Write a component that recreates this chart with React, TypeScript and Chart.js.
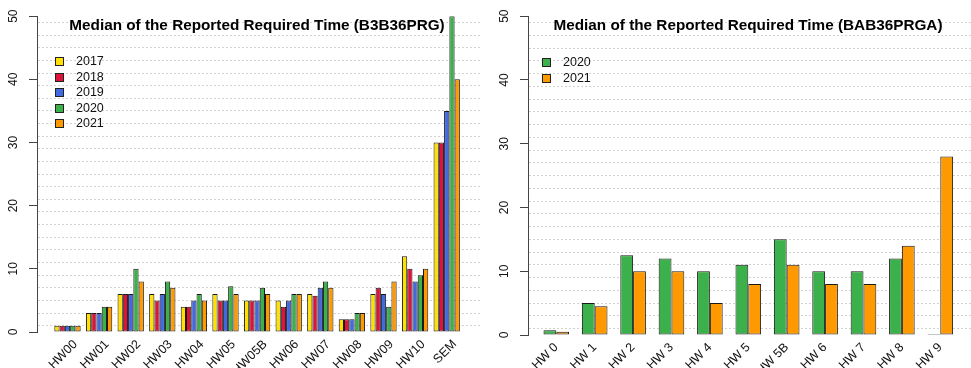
import React, { useEffect, useRef } from 'react';
import { Chart, registerables } from 'chart.js';

Chart.register(...registerables);

// ---------- data ----------
const leftCategories = ['HW00', 'HW01', 'HW02', 'HW03', 'HW04', 'HW05', 'HW05B', 'HW06', 'HW07', 'HW08', 'HW09', 'HW10', 'SEM'];
const leftYears = ['2017', '2018', '2019', '2020', '2021'];
const left2017 = [1, 3, 6, 6, 4, 6, 5, 5, 6, 2, 6, 12, 30];
const left2018 = [1, 3, 6, 5, 4, 5, 5, 4, 5.75, 2, 7, 10, 30];
const left2019 = [1, 3, 6, 6, 5, 5, 5, 5, 7, 2, 6, 8, 35];
const left2020 = [1, 4, 10, 8, 6, 7.25, 7, 6, 8, 3, 4, 9, 50];
const left2021 = [1, 4, 8, 7, 5, 6, 6, 6, 7, 3, 8, 10, 40];

const rightCategories = ['HW 0', 'HW 1', 'HW 2', 'HW 3', 'HW 4', 'HW 5', 'HW 5B', 'HW 6', 'HW 7', 'HW 8', 'HW 9'];
const rightYears = ['2020', '2021'];
const right2020 = [0.75, 5, 12.5, 12, 10, 11, 15, 10, 10, 12, 0];
const right2021 = [0.5, 4.5, 10, 10, 5, 8, 11, 8, 8, 14, 28];

const yMin = 0;
const yMax = 50;
const yLabelStep = 10;

const leftTitle = 'Median of the Reported Required Time (B3B36PRG)';
const rightTitle = 'Median of the Reported Required Time (BAB36PRGA)';

const yearColors: Record<string, string> = {
  '2017': '#FFE000',
  '2018': '#DC143C',
  '2019': '#4169E1',
  '2020': '#3CB04A',
  '2021': '#FF9900',
};

const FONT = "'Liberation Sans', Arial, Helvetica, sans-serif";

type PanelProps = {
  x: number;
  width: number;
  height: number;
  title: string;
  titleCenter: number;
  categories: string[];
  years: string[];
  series: number[][];
  yAxisWidth: number;
  xMin: number;
  xMax: number;
  groupPct: number;
  xAxisHeight: number;
  rightPad: number;
  labelOffset: number;
  legendLeft: number;
  legendTop: number;
};

function Panel(p: PanelProps) {
  const ref = useRef<HTMLCanvasElement>(null);
  useEffect(() => {
    const canvas = ref.current!;
    const chart = new Chart(canvas, {
      type: 'bar',
      data: {
        datasets: p.years.map((yr, k) => ({
          label: yr,
          data: p.series[k].map((y, i) => ({ x: i, y })),
          backgroundColor: yearColors[yr],
          borderColor: '#1a1a1a',
          borderWidth: 1,
          borderSkipped: false,
          minBarLength: 1,
          categoryPercentage: p.groupPct,
          barPercentage: 1,
        })),
      },
      options: {
        responsive: false,
        animation: false,
        devicePixelRatio: 1,
        layout: { padding: { top: 15, right: p.rightPad, left: 0, bottom: 0 } },
        plugins: {
          legend: { display: false },
          title: { display: false },
          tooltip: { enabled: false },
        },
        scales: {
          x: {
            type: 'linear',
            min: p.xMin,
            max: p.xMax,
            offset: false,
            grid: { display: false, drawTicks: false },
            border: { display: false },
            afterBuildTicks: (s: any) => {
              s.ticks = p.categories.map((_, i) => ({ value: i }));
            },
            afterFit: (s: any) => {
              s.height = p.xAxisHeight;
            },
            ticks: {
              autoSkip: false,
              minRotation: 45,
              maxRotation: 45,
              labelOffset: p.labelOffset,
              padding: 5,
              color: '#111',
              font: { family: FONT, size: 12.5 },
              callback: (v: any) => p.categories[v] ?? '',
            },
          },
          y: {
            type: 'linear',
            min: yMin,
            max: yMax,
            z: 1,
            afterFit: (s: any) => {
              s.width = p.yAxisWidth;
            },
            ticks: {
              stepSize: 1,
              autoSkip: false,
              minRotation: 90,
              maxRotation: 90,
              crossAlign: 'center',
              padding: 9,
              color: '#111',
              font: { family: FONT, size: 12 },
              callback: (v: any) => (v % yLabelStep === 0 ? String(v) : ''),
            },
            grid: {
              lineWidth: 1,
              tickLength: 8,
              color: (ctx: any) => (ctx.tick && Math.abs(ctx.tick.value % 2) === 1 ? '#d2d2d2' : 'rgba(0,0,0,0)'),
              tickColor: (ctx: any) => (ctx.tick && ctx.tick.value % yLabelStep === 0 ? '#444' : 'rgba(0,0,0,0)'),
            },
            border: { display: true, color: '#444', width: 1, dash: [2, 2] },
          },
        },
      } as any,
    });
    return () => chart.destroy();
  }, []);

  return (
    <div style={{ position: 'absolute', left: p.x, top: 0, width: p.width, height: p.height }}>
      <canvas ref={ref} width={p.width} height={p.height} style={{ display: 'block', width: p.width, height: p.height }} />
      <div
        style={{
          position: 'absolute',
          left: p.titleCenter,
          top: 17,
          transform: 'translateX(-50%)',
          whiteSpace: 'nowrap',
          font: `bold 15.3px ${FONT}`,
          lineHeight: '15.3px',
          color: '#000',
        }}
      >
        {p.title}
      </div>
      <div style={{ position: 'absolute', left: p.legendLeft, top: p.legendTop }}>
        {p.years.map((yr) => (
          <div key={yr} style={{ display: 'flex', alignItems: 'center', height: 15.5 }}>
            <div
              style={{
                width: 9,
                height: 9,
                boxSizing: 'border-box',
                border: '1px solid #222',
                background: yearColors[yr],
              }}
            />
            <span style={{ marginLeft: 12, font: `12.5px ${FONT}`, color: '#111', lineHeight: '15.5px' }}>{yr}</span>
          </div>
        ))}
      </div>
    </div>
  );
}

export default function App() {
  return (
    <div
      style={{
        position: 'fixed',
        left: 0,
        top: 0,
        width: 971,
        height: 368,
        overflow: 'hidden',
        background: '#fff',
      }}
    >
      <Panel
        x={0}
        width={485}
        height={368}
        title={leftTitle}
        titleCenter={257}
        categories={leftCategories}
        years={leftYears}
        series={[left2017, left2018, left2019, left2020, left2021]}
        yAxisWidth={37}
        xMin={-0.965}
        xMax={13.085}
        groupPct={0.833}
        xAxisHeight={36}
        rightPad={4}
        labelOffset={8}
        legendLeft={55}
        legendTop={54}
      />
      <Panel
        x={485}
        width={486}
        height={368}
        title={rightTitle}
        titleCenter={263}
        categories={rightCategories}
        years={rightYears}
        series={[right2020, right2021]}
        yAxisWidth={43}
        xMin={-0.737}
        xMax={10.8}
        groupPct={0.667}
        xAxisHeight={33}
        rightPad={0}
        labelOffset={0}
        legendLeft={57}
        legendTop={55}
      />
    </div>
  );
}
